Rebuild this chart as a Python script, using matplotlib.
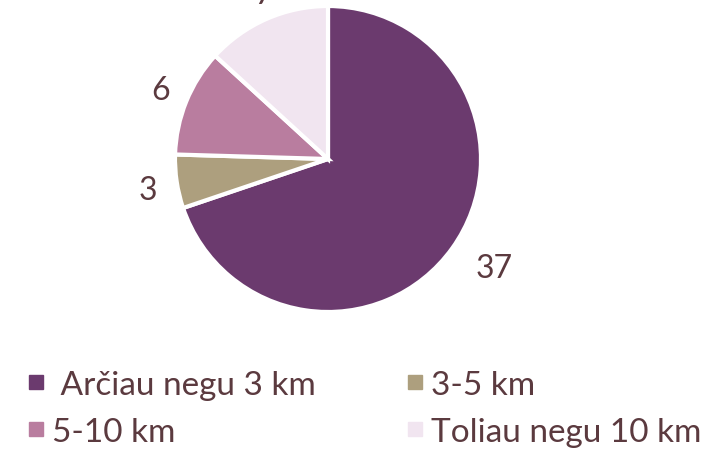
import numpy as np
import matplotlib.pyplot as plt
from matplotlib.lines import Line2D

plt.rcParams['font.family'] = ['Lato', 'DejaVu Sans']

categories = [' Arčiau negu 3 km', '3-5 km', '5-10 km', 'Toliau negu 10 km']
values = [37, 3, 6, 7]
colors = ['#6b3a6e', '#ad9f7e', '#b97d9f', '#f1e5f0']
txt = '#5b3a3f'

fig = plt.figure(figsize=(7.18, 4.52), dpi=100)
ax = fig.add_axes([0, 0, 1, 1])

cx, cy, r = 328, 292, 153
wedges, texts = ax.pie(values, colors=colors, labels=[str(v) for v in values],
                       startangle=90, counterclock=False, radius=r,
                       center=(cx, cy), labeldistance=1.16, frame=True,
                       wedgeprops=dict(edgecolor='white', linewidth=3),
                       textprops=dict(fontsize=23, color=txt))
# push labels out a bit (left ones further)
dists = [1.19, 1.25, 1.25, 1.2]
for w, t, d in zip(wedges, texts, dists):
    th = np.deg2rad((w.theta1 + w.theta2) / 2)
    t.set_position((cx + d * r * np.cos(th), cy + d * r * np.sin(th)))
    t.set_va('center_baseline')
ax.set_xlim(0, 718)
ax.set_ylim(0, 452)
ax.axis('off')

# legend row-major order
order = [0, 2, 1, 3]
handles = [Line2D([], [], marker='s', linestyle='none', markersize=10,
                  color=colors[i]) for i in order]
labs = [categories[i] for i in order]
leg = fig.legend(handles, labs, ncol=2, loc='lower left', bbox_to_anchor=(-0.002, -0.057),
                 frameon=False, fontsize=24, handlelength=0.45, handletextpad=0.25,
                 columnspacing=2.75, labelspacing=0.5, labelcolor=txt)

fig.savefig('out.png', dpi=100)
